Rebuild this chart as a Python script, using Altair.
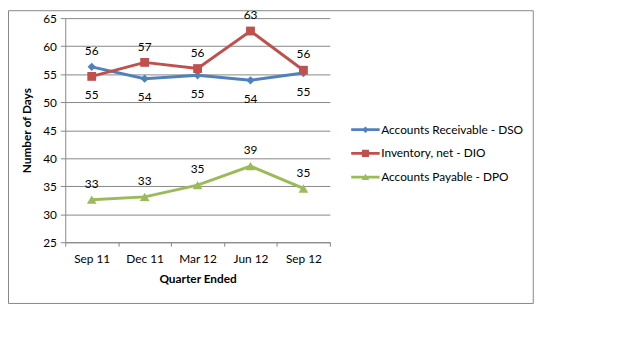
import altair as alt
import pandas as pd

quarters = ["Sep 11", "Dec 11", "Mar 12", "Jun 12", "Sep 12"]
series_names = ["Accounts Receivable - DSO", "Inventory, net - DIO", "Accounts Payable - DPO"]
dso = [56.3, 54.2, 54.8, 53.9, 55.2]
dio = [54.6, 57.1, 56.0, 62.7, 55.7]
dpo = [32.6, 33.1, 35.2, 38.6, 34.6]
colors = ["#4F81BD", "#C0504D", "#9BBB59"]
marker_shapes = ["diamond", "square", "triangle-up"]
marker_sizes = [70, 80, 95]
legend_paths = [
    "M-1.8,-0.17H1.8V0.17H-1.8Z M0,-0.42L0.42,0L0,0.42L-0.42,0Z",
    "M-1.8,-0.17H1.8V0.17H-1.8Z M-0.45,-0.45H0.45V0.45H-0.45Z",
    "M-1.8,-0.17H1.8V0.17H-1.8Z M0,-0.42L0.48,0.36L-0.48,0.36Z",
]

rows = []
for name, vals in zip(series_names, [dso, dio, dpo]):
    for i, (q, v) in enumerate(zip(quarters, vals)):
        if name == series_names[2]:
            pos = "above"
        else:
            other = dio[i] if name == series_names[0] else dso[i]
            pos = "above" if v >= other else "below"
        rows.append({"quarter": q, "series": name, "value": v,
                     "label": str(int(round(v))), "pos": pos})
df = pd.DataFrame(rows)
leg_df = pd.DataFrame({"series": series_names})

FONT = "Lato"
FS = 12
GRAY = "#868686"

x_enc = alt.X("quarter:N", sort=quarters,
              scale=alt.Scale(paddingInner=0, paddingOuter=0),
              axis=alt.Axis(title="Quarter Ended", labelAngle=0, grid=False,
                            tickBand="extent", tickSize=4, tickColor=GRAY,
                            domainColor=GRAY, labelPadding=8, titlePadding=9,
                            labelFontSize=FS, titleFontSize=FS, labelFont=FONT,
                            titleFont=FONT, labelColor="#000000",
                            titleColor="#000000", titleFontWeight="bold"))
y_enc = alt.Y("value:Q", scale=alt.Scale(domain=[25, 65], nice=False, zero=False),
              axis=alt.Axis(title="Number of Days", values=list(range(25, 66, 5)),
                            tickCount=20,
                            grid=True, gridColor=GRAY, tickColor=GRAY,
                            domainColor=GRAY, tickSize=5, labelPadding=4,
                            labelOverlap=False, titlePadding=9,
                            labelFontSize=FS, titleFontSize=FS,
                            labelFont=FONT, titleFont=FONT, labelColor="#000000",
                            titleColor="#000000", titleFontWeight="bold"))
color_scale = alt.Scale(domain=series_names, range=colors)

base = alt.Chart(df)

lines = base.mark_line(strokeWidth=3).encode(
    x=x_enc, y=y_enc,
    stroke=alt.Stroke("series:N", scale=color_scale, legend=None),
)

point_layers = []
for name, shp, sz, col in zip(series_names, marker_shapes, marker_sizes, colors):
    point_layers.append(
        base.transform_filter(alt.datum.series == name)
        .mark_point(shape=shp, filled=True, size=sz, opacity=1, color=col)
        .encode(x=alt.X("quarter:N", sort=quarters), y="value:Q")
    )

labels_above = base.transform_filter(alt.datum.pos == "above").mark_text(
    dy=-16, fontSize=FS, font=FONT, color="#000000", baseline="middle"
).encode(x=alt.X("quarter:N", sort=quarters), y="value:Q", text="label:N")

labels_below = base.transform_filter(alt.datum.pos == "below").mark_text(
    dy=19, fontSize=FS, font=FONT, color="#000000", baseline="middle"
).encode(x=alt.X("quarter:N", sort=quarters), y="value:Q", text="label:N")

main = alt.layer(lines, *point_layers, labels_above, labels_below)

# legend built from its own small table through ordinal scales
leg_y = alt.Y("series:N", sort=series_names,
              scale=alt.Scale(type="point", domain=series_names, range=[113, 161], padding=0),
              axis=None)
legend_sym = alt.Chart(leg_df).mark_point(filled=True, size=256, opacity=1).encode(
    x=alt.value(304),
    y=leg_y,
    color=alt.Color("series:N", scale=color_scale, legend=None),
    shape=alt.Shape("series:N", scale=alt.Scale(domain=series_names, range=legend_paths),
                    legend=None),
)
legend_txt = alt.Chart(leg_df).mark_text(
    align="left", baseline="middle", fontSize=FS, font=FONT, color="#000000"
).encode(x=alt.value(320), y=leg_y, text="series:N")
legend = alt.layer(legend_sym, legend_txt)

border = alt.Chart(pd.DataFrame({"a": [0]})).mark_rect(
    fill=None, stroke=GRAY, strokeWidth=1
).encode(x=alt.value(-57.5), x2=alt.value(474), y=alt.value(-7.5), y2=alt.value(289))

chart = alt.layer(border, main, legend).resolve_scale(
    y="independent"
).properties(
    width=268, height=227,
    autosize=alt.AutoSizeParams(type="none"),
    padding={"left": 58, "top": 8, "right": 306, "bottom": 117},
    background="#ffffff",
).configure_view(strokeWidth=0)

chart.save("out.html", embed_options={"renderer": "svg", "actions": False})
